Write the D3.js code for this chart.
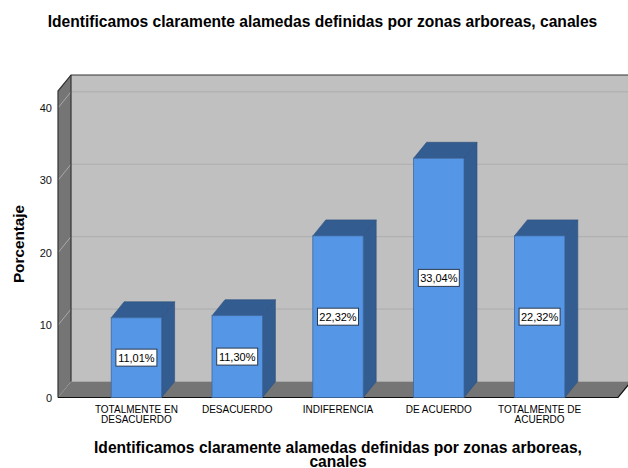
<!DOCTYPE html>
<html>
<head>
<meta charset="utf-8">
<script src="https://cdn.jsdelivr.net/npm/d3@7"></script>
<style>
  html, body { margin: 0; padding: 0; background: #fff; overflow: hidden; }
  svg { display: block; font-family: "Liberation Sans", Arial, sans-serif; }
</style>
</head>
<body>
<div class="graph"></div>
<script>
const categories = [
    ['TOTALMENTE EN', 'DESACUERDO'],
    ['DESACUERDO'],
    ['INDIFERENCIA'],
    ['DE ACUERDO'],
    ['TOTALMENTE DE', 'ACUERDO']
];
const values = [11.01, 11.30, 22.32, 33.04, 22.32];
const yTicks = [0, 10, 20, 30, 40];
const chartTitle = 'Identificamos claramente alamedas definidas por zonas arboreas, canales';
const xTitle = ['Identificamos claramente alamedas definidas por zonas arboreas,', 'canales'];
const yTitle = 'Porcentaje';

const svgDim = { w: 628, h: 468 };
const depth = { x: 13, y: -16 };
const colors = { wall: '#c0c0c0', side: '#757575', front: '#5596e6', dark: '#335c90', grid: '#adadad', sideGrid: '#a9a9a9' };

const svg = d3.select('.graph').append('svg').attr('width', svgDim.w).attr('height', svgDim.h);

const names = categories.map(c => c.join(' '));
const xScale = d3.scaleBand().domain(names).range([86, 590]).paddingInner(0.5).paddingOuter(0.25);
const yScale = d3.scaleLinear().domain([0, 42.33]).range([397.5, 91]);

const left = 58, right = 618, y0 = yScale(0), yTop = yScale.range()[1];
const pts = a => a.map(p => p.join(',')).join(' ');

// back wall, left wall and floor
svg.append('rect')
    .attr('x', left + depth.x).attr('y', yTop + depth.y)
    .attr('width', right - left).attr('height', y0 - yTop)
    .attr('fill', colors.wall);
svg.append('polygon')
    .attr('points', pts([[left, y0], [left + depth.x, y0 + depth.y], [left + depth.x, yTop + depth.y], [left, yTop]]))
    .attr('fill', colors.side);
svg.append('polygon')
    .attr('points', pts([[left, y0], [left + depth.x, y0 + depth.y], [right + depth.x, y0 + depth.y], [right, y0]]))
    .attr('fill', colors.side);

// gridlines
yTicks.slice(1).forEach(t => {
    svg.append('line')
        .attr('x1', left + depth.x).attr('x2', right + depth.x)
        .attr('y1', yScale(t) + depth.y).attr('y2', yScale(t) + depth.y)
        .attr('stroke', colors.grid).attr('stroke-width', 1);
    svg.append('line')
        .attr('x1', left).attr('x2', left + depth.x)
        .attr('y1', yScale(t)).attr('y2', yScale(t) + depth.y)
        .attr('stroke', colors.sideGrid).attr('stroke-width', 1);
});

// frame edges
svg.append('path')
    .attr('d', `M${left},${y0}V${yTop}L${left + depth.x},${yTop + depth.y}H${right + depth.x}`)
    .attr('fill', 'none').attr('stroke', '#333').attr('stroke-width', 1.2);
svg.append('path')
    .attr('d', `M${left + depth.x},${yTop + depth.y}V${y0 + depth.y}`)
    .attr('fill', 'none').attr('stroke', '#333').attr('stroke-width', 1.2);
svg.append('path')
    .attr('d', `M${left},${y0}H${right}L${right + depth.x},${y0 + depth.y}`)
    .attr('fill', 'none').attr('stroke', '#111').attr('stroke-width', 1.2);

// bars
const bars = svg.append('g').selectAll('g').data(values).join('g');
const bx = i => xScale(names[i]);
const bw = xScale.bandwidth();

bars.append('polygon')
    .attr('points', (d, i) => pts([
        [bx(i) + bw, yScale(d)], [bx(i) + bw + depth.x, yScale(d) + depth.y],
        [bx(i) + bw + depth.x, y0 + depth.y], [bx(i) + bw, y0]]))
    .attr('fill', colors.dark).attr('stroke', '#2d4f7c').attr('stroke-width', 0.6);
bars.append('polygon')
    .attr('points', (d, i) => pts([
        [bx(i), yScale(d)], [bx(i) + depth.x, yScale(d) + depth.y],
        [bx(i) + bw + depth.x, yScale(d) + depth.y], [bx(i) + bw, yScale(d)]]))
    .attr('fill', colors.dark).attr('stroke', '#2d4f7c').attr('stroke-width', 0.6);
bars.append('rect')
    .attr('x', (d, i) => bx(i)).attr('y', d => yScale(d))
    .attr('width', bw).attr('height', d => y0 - yScale(d))
    .attr('fill', colors.front).attr('stroke', '#3f6aa0').attr('stroke-width', 0.8);

// value labels
bars.append('rect')
    .attr('x', (d, i) => bx(i) + bw / 2 - 20.5)
    .attr('y', d => (yScale(d) + y0) / 2 - 8.5)
    .attr('width', 41).attr('height', 17)
    .attr('fill', '#fff').attr('stroke', '#2b3a4d').attr('stroke-width', 1);
bars.append('text')
    .attr('x', (d, i) => bx(i) + bw / 2)
    .attr('y', d => (yScale(d) + y0) / 2 + 4)
    .attr('text-anchor', 'middle').attr('font-size', 11).attr('fill', '#000')
    .text(d => d.toFixed(2).replace('.', ',') + '%');

// axes
const yAxis = d3.axisLeft(yScale).tickValues(yTicks).tickSize(0).tickPadding(6);
const yG = svg.append('g').attr('transform', `translate(${left},0)`).call(yAxis);
yG.select('.domain').remove();
yG.selectAll('text').attr('font-size', 11).attr('font-family', 'Liberation Sans').attr('fill', '#111');

const xAxis = d3.axisBottom(xScale).tickSize(0).tickFormat('');
const xG = svg.append('g').attr('transform', `translate(0,${y0})`).call(xAxis);
xG.select('.domain').remove();
xG.selectAll('.tick').append('text')
    .attr('font-size', 10).attr('font-family', 'Liberation Sans').attr('fill', '#000').attr('text-anchor', 'middle')
    .selectAll('tspan').data((d, i) => categories[i]).join('tspan')
    .attr('x', 0).attr('y', (d, i) => 15.5 + i * 10)
    .text(d => d);

// titles
svg.append('text')
    .attr('x', 322.5).attr('y', 27).attr('text-anchor', 'middle')
    .attr('font-size', 15.6).attr('font-weight', 'bold')
    .text(chartTitle);
svg.append('text')
    .attr('transform', 'translate(24,244) rotate(-90)').attr('text-anchor', 'middle')
    .attr('font-size', 15.3).attr('font-weight', 'bold')
    .text(yTitle);
svg.append('text')
    .attr('text-anchor', 'middle').attr('font-size', 15.6).attr('font-weight', 'bold')
    .selectAll('tspan').data(xTitle).join('tspan')
    .attr('x', 338).attr('y', (d, i) => 452.5 + i * 14.5)
    .text(d => d);
</script>
</body>
</html>
